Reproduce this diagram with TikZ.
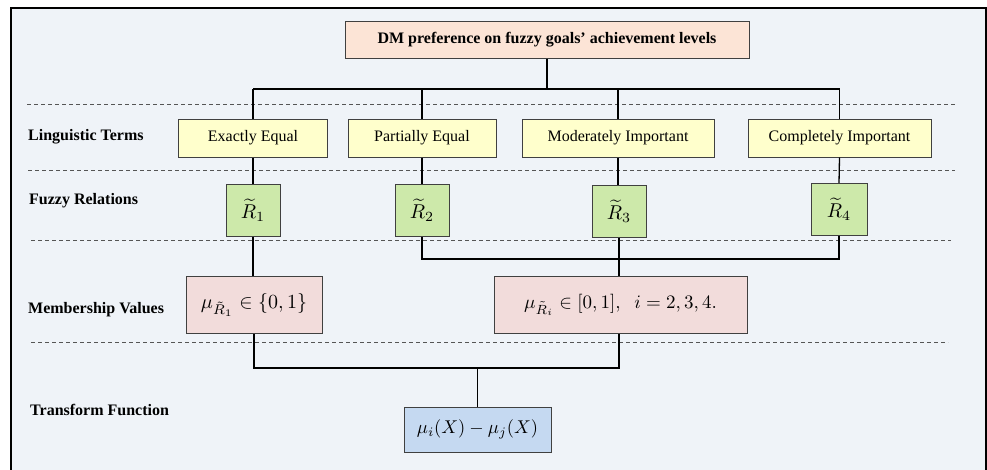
\documentclass[tikz,border=0pt]{standalone}
\usepackage{graphicx}
\usepackage{fontspec}
\setmainfont{Liberation Serif}
\definecolor{bgc}{HTML}{EFF3F8}
\definecolor{peach}{HTML}{FCE4D6}
\definecolor{lyellow}{HTML}{FFFFCC}
\definecolor{lgreen}{HTML}{CDE9AA}
\definecolor{lpink}{HTML}{F2DCDB}
\definecolor{lblue}{HTML}{C5D9F1}
\definecolor{boxc}{HTML}{404040}
\definecolor{dashc}{HTML}{555555}
\newcommand{\mathbig}[2]{\scalebox{#1}{$#2$}}
\begin{document}
\begin{tikzpicture}[x=1pt,y=-1pt,
  bx/.style={draw=boxc,line width=1pt,inner sep=0pt,align=center},
  lab/.style={anchor=west,inner sep=0pt,font=\bfseries\fontsize{16}{19}\selectfont},
  term/.style={bx,fill=lyellow,minimum height=38pt,font=\fontsize{16}{19}\selectfont},
  rel/.style={bx,fill=lgreen,minimum width=54pt,minimum height=52pt},
  mem/.style={bx,fill=lpink,minimum height=57pt},
  sep/.style={draw=dashc,line width=1pt,dash pattern=on 4pt off 3pt},
  conn/.style={draw=black,line width=1.3pt}]
\useasboundingbox (0,0) rectangle (987,469);
\clip (0,0) rectangle (987,469);
% frame
\fill[bgc] (11,8) rectangle (986,480);
\draw[line width=1.8pt] (11,480) -- (11,8) -- (986,8) -- (986,480);
% separators
\draw[sep] (27,104) -- (955,104);
\draw[sep] (28,170) -- (955,170);
\draw[sep] (31,240) -- (951,240);
\draw[sep] (31,342) -- (948,342);
% labels
\node[lab] (l1) at (28,137) {Linguistic Terms};
\node[lab] (l2) at (29,201) {Fuzzy Relations};
\node[lab] (l3) at (28,310) {Membership Values};
\node[lab] (l4) at (30,410) {Transform Function};
% nodes
\node[bx,fill=peach,minimum width=404pt,minimum height=37pt,font=\bfseries\fontsize{16}{19}\selectfont] (dm) at (547,39.5) {DM preference on fuzzy goals’ achievement levels};
\node[term,minimum width=149pt] (t1) at (253,138) {Exactly Equal};
\node[term,minimum width=148pt] (t2) at (422,138) {Partially Equal};
\node[term,minimum width=192pt] (t3) at (618,138) {Moderately Important};
\node[term,minimum width=183pt] (t4) at (839.5,138) {Completely Important};
\node[rel] (r1) at (253,210) {\mathbig{2.0}{\widetilde{R}_1}};
\node[rel] (r2) at (422,210.5) {\mathbig{2.0}{\widetilde{R}_2}};
\node[rel] (r3) at (619,211) {\mathbig{2.0}{\widetilde{R}_3}};
\node[rel,minimum width=56pt] (r4) at (839,209.5) {\mathbig{2.0}{\widetilde{R}_4}};
\node[mem,minimum width=136pt] (m1) at (254,305) {\mathbig{2.0}{\mu_{\tilde{R}_1}\in\{0,1\}}};
\node[mem,minimum width=253pt] (m2) at (620.5,305) {\mathbig{1.9}{\mu_{\tilde{R}_i}\in[0,1],\;\; i=2,3,4.}};
\node[bx,fill=lblue,minimum width=147pt,minimum height=45pt] (tf) at (477.5,429.5) {\mathbig{1.85}{\mu_i(X)-\mu_j(X)}};
% bus coordinates
\coordinate (b1) at (0,89);
\coordinate (b2) at (0,259);
\coordinate (b3) at (0,368);
% connectors
\draw[line width=1.8pt] (dm.south) -- (dm.south |- b1);
\draw[line width=1.8pt] (t1.north |- b1) -- (t4.north |- b1);
\draw[conn] (t1.north) -- (t1.north |- b1);
\draw[conn] (t2.north) -- (t2.north |- b1);
\draw[conn] (t3.north) -- (t3.north |- b1);
\draw[conn] (t4.north) -- (t4.north |- b1);
\draw[conn] (t1.south) -- (r1.north);
\draw[conn] (t2.south) -- (r2.north);
\draw[conn] (t3.south) -- (r3.north -| t3.south);
\draw[conn] (t4.south) -- (r4.north);
\draw[conn] (r1.south) -- (r1.south |- m1.north);
\draw[conn] (r2.south) -- (r2.south |- b2) -- (r4.south |- b2) -- (r4.south);
\draw[conn] (r3.south) -- (r3.south |- m2.north);
\draw[conn] (m1.south) -- (m1.south |- b3) -- (r3.south |- b3) -- (r3.south |- m2.south);
\draw[conn] (tf.north) -- (tf.north |- b3);
\end{tikzpicture}
\end{document}
